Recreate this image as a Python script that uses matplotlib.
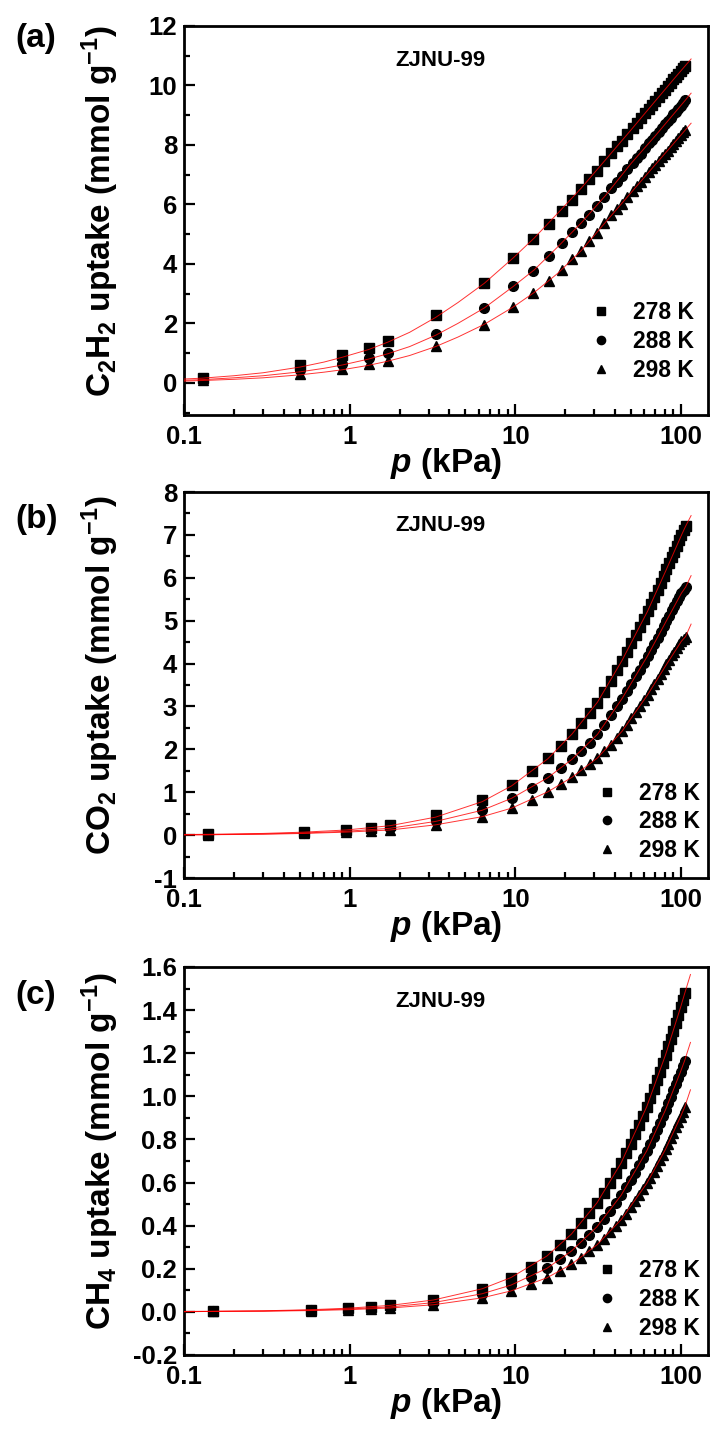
import matplotlib
matplotlib.use("Agg")
import matplotlib.pyplot as plt
from matplotlib.ticker import MultipleLocator, LogLocator, FixedLocator, FixedFormatter, NullFormatter

# ---- panel (a): C2H2 ----
p_a = [0.13, 0.5, 0.9, 1.3, 1.7, 3.3, 6.5, 9.7, 12.8, 16, 19, 22, 25, 28, 31, 34.5, 38, 41, 44,
       47.5, 51, 54, 57, 60.5, 64, 67, 70, 73.5, 77, 80, 83, 86.5, 90, 93, 96, 99.5, 103, 106]
a_278 = [0.15, 0.60, 0.95, 1.18, 1.42, 2.27, 3.37, 4.20, 4.85, 5.35, 5.78, 6.15, 6.52, 6.85, 7.14,
         7.45, 7.73, 7.95, 8.14, 8.37, 8.57, 8.73, 8.89, 9.06, 9.22, 9.35, 9.48, 9.62, 9.75, 9.86,
         9.97, 10.08, 10.20, 10.29, 10.38, 10.49, 10.59, 10.66]
a_288 = [0.12, 0.42, 0.62, 0.85, 1.01, 1.65, 2.52, 3.26, 3.76, 4.28, 4.70, 5.07, 5.38, 5.66, 5.95,
         6.26, 6.54, 6.76, 6.96, 7.19, 7.40, 7.56, 7.71, 7.89, 8.05, 8.18, 8.31, 8.45, 8.58, 8.69,
         8.80, 8.92, 9.03, 9.12, 9.22, 9.32, 9.42, 9.50]
a_298 = [0.10, 0.30, 0.46, 0.62, 0.75, 1.25, 1.96, 2.55, 3.02, 3.43, 3.80, 4.15, 4.45, 4.77, 5.05,
         5.36, 5.63, 5.84, 6.03, 6.25, 6.45, 6.61, 6.76, 6.93, 7.09, 7.21, 7.34, 7.47, 7.60, 7.71,
         7.81, 7.93, 8.04, 8.13, 8.22, 8.32, 8.42, 8.50]
pfit_a = [0.1, 0.13, 0.2, 0.3, 0.5, 0.7, 0.9, 1.3, 1.7, 2.3, 3.3, 4.5, 6.5, 9.7, 13, 18, 25, 35,
          50, 70, 90, 106, 115]
fit_a_278 = [0.13, 0.16, 0.24, 0.34, 0.53, 0.70, 0.86, 1.12, 1.37, 1.70, 2.20, 2.70, 3.35, 4.20,
             4.87, 5.70, 6.55, 7.50, 8.51, 9.48, 10.20, 10.66, 10.89]
fit_a_288 = [0.09, 0.11, 0.17, 0.24, 0.37, 0.49, 0.60, 0.80, 0.98, 1.22, 1.60, 2.00, 2.52, 3.24,
             3.80, 4.57, 5.38, 6.30, 7.38, 8.31, 9.03, 9.50, 9.74]
fit_a_298 = [0.06, 0.08, 0.12, 0.17, 0.27, 0.36, 0.44, 0.59, 0.73, 0.92, 1.22, 1.54, 1.97, 2.55,
             3.04, 3.68, 4.45, 5.40, 6.40, 7.34, 8.04, 8.50, 8.73]

# ---- panel (b): CO2 ----
p_b = [0.14, 0.53, 0.95, 1.35, 1.75, 3.3, 6.3, 9.5, 12.6, 15.7, 18.8, 22, 25, 28.2, 31.3, 34.5,
       37.6, 40.8, 44, 47, 50.2, 53.4, 56.5, 59.7, 62.8, 66, 69, 72.2, 75.4, 78.5, 81.7, 84.8, 88,
       91, 94.2, 97.4, 100.5, 103.7, 106.5]
b_278 = [0.02, 0.07, 0.12, 0.17, 0.23, 0.46, 0.81, 1.18, 1.50, 1.80, 2.09, 2.36, 2.61, 2.85, 3.08,
         3.33, 3.60, 3.85, 4.07, 4.27, 4.47, 4.67, 4.86, 5.04, 5.22, 5.39, 5.55, 5.72, 5.89, 6.05,
         6.20, 6.35, 6.48, 6.61, 6.74, 6.87, 6.99, 7.11, 7.20]
b_288 = [0.01, 0.05, 0.09, 0.12, 0.16, 0.33, 0.59, 0.86, 1.10, 1.34, 1.56, 1.77, 1.96, 2.14, 2.35,
         2.56, 2.80, 3.00, 3.18, 3.36, 3.53, 3.70, 3.86, 4.02, 4.18, 4.32, 4.46, 4.60, 4.74, 4.87,
         5.00, 5.12, 5.24, 5.35, 5.45, 5.55, 5.64, 5.72, 5.78]
b_298 = [0.01, 0.04, 0.07, 0.09, 0.12, 0.24, 0.43, 0.63, 0.82, 1.01, 1.19, 1.35, 1.51, 1.65, 1.80,
         1.96, 2.11, 2.26, 2.42, 2.56, 2.72, 2.88, 3.01, 3.14, 3.27, 3.40, 3.52, 3.64, 3.76, 3.87,
         3.98, 4.09, 4.19, 4.28, 4.37, 4.45, 4.52, 4.58, 4.63]
pfit_b = [0.1, 0.14, 0.3, 0.53, 0.95, 1.75, 3.3, 6.3, 9.5, 15.7, 22, 31.3, 44, 62.8, 81.7, 100.5,
          106.5, 115]
fit_b_278 = [0.015, 0.02, 0.04, 0.07, 0.12, 0.22, 0.42, 0.78, 1.15, 1.78, 2.36, 3.10, 4.07, 5.22,
             6.20, 6.99, 7.20, 7.45]
fit_b_288 = [0.01, 0.01, 0.03, 0.05, 0.09, 0.16, 0.32, 0.58, 0.86, 1.34, 1.77, 2.35, 3.18, 4.18,
             5.00, 5.64, 5.78, 6.05]
fit_b_298 = [0.005, 0.01, 0.02, 0.04, 0.07, 0.12, 0.24, 0.43, 0.63, 1.01, 1.35, 1.80, 2.42, 3.27,
             3.98, 4.52, 4.63, 4.92]

# ---- panel (c): CH4 ----
p_c = [0.15, 0.58, 0.97, 1.35, 1.75, 3.2, 6.3, 9.4, 12.5, 15.5, 18.7, 21.8, 24.9, 28, 31.1, 34.2,
       37.3, 40.4, 43.5, 46.6, 49.7, 52.8, 55.9, 59, 62.1, 65.2, 68.3, 71.4, 74.5, 77.6, 80.7,
       83.8, 86.9, 90, 93.1, 96.2, 99.3, 102.4, 105.2]
c_278 = [0.003, 0.010, 0.017, 0.023, 0.030, 0.055, 0.107, 0.159, 0.210, 0.259, 0.311, 0.361,
         0.410, 0.458, 0.506, 0.553, 0.600, 0.646, 0.691, 0.736, 0.781, 0.825, 0.868, 0.910,
         0.952, 0.994, 1.035, 1.075, 1.115, 1.154, 1.193, 1.231, 1.268, 1.305, 1.341, 1.377,
         1.412, 1.447, 1.477]
c_288 = [0.002, 0.008, 0.013, 0.018, 0.023, 0.043, 0.084, 0.124, 0.164, 0.202, 0.243, 0.282,
         0.320, 0.358, 0.395, 0.433, 0.469, 0.505, 0.541, 0.577, 0.612, 0.646, 0.680, 0.714,
         0.747, 0.780, 0.813, 0.845, 0.876, 0.907, 0.938, 0.968, 0.998, 1.028, 1.057, 1.086,
         1.114, 1.141, 1.166]
c_298 = [0.002, 0.006, 0.010, 0.014, 0.018, 0.033, 0.065, 0.097, 0.128, 0.158, 0.190, 0.221,
         0.251, 0.281, 0.311, 0.340, 0.370, 0.399, 0.428, 0.456, 0.485, 0.513, 0.541, 0.568,
         0.596, 0.623, 0.650, 0.676, 0.703, 0.729, 0.755, 0.780, 0.806, 0.831, 0.856, 0.880,
         0.905, 0.929, 0.950]
pfit_c = [0.1, 0.15, 0.3, 0.58, 0.97, 1.75, 3.2, 6.3, 9.4, 15.5, 21.8, 31.1, 43.5, 62.1, 80.7,
          99.3, 105.2, 114]
fit_c_278 = [0.002, 0.003, 0.005, 0.010, 0.017, 0.030, 0.055, 0.107, 0.159, 0.259, 0.361, 0.506,
             0.691, 0.952, 1.193, 1.412, 1.477, 1.565]
fit_c_288 = [0.001, 0.002, 0.004, 0.008, 0.013, 0.023, 0.043, 0.084, 0.124, 0.202, 0.282, 0.395,
             0.541, 0.747, 0.938, 1.114, 1.166, 1.250]
fit_c_298 = [0.001, 0.002, 0.003, 0.006, 0.010, 0.018, 0.033, 0.065, 0.097, 0.158, 0.221, 0.311,
             0.428, 0.596, 0.755, 0.905, 0.950, 1.030]

temps = ["278 K", "288 K", "298 K"]
markers = ["s", "o", "^"]
msizes = [6.5, 7.0, 7.5]

PANELS = [
    # tag, ylabel, p, series, fit p, fits, ylim, major, minor, fmt, rect
    ("(a)", r"C$_2$H$_2$ uptake (mmol g$^{-1}$)", p_a, [a_278, a_288, a_298],
     pfit_a, [fit_a_278, fit_a_288, fit_a_298], (-1.08, 12), 2, 1, "%d",
     [0.2592, 0.7106, 0.738, 0.2713]),
    ("(b)", r"CO$_2$ uptake (mmol g$^{-1}$)", p_b, [b_278, b_288, b_298],
     pfit_b, [fit_b_278, fit_b_288, fit_b_298], (-1, 8), 1, 0.5, "%d",
     [0.2592, 0.3877, 0.738, 0.2692]),
    ("(c)", r"CH$_4$ uptake (mmol g$^{-1}$)", p_c, [c_278, c_288, c_298],
     pfit_c, [fit_c_278, fit_c_288, fit_c_298], (-0.2, 1.6), 0.2, 0.1, "%.1f",
     [0.2592, 0.0551, 0.738, 0.2706]),
]
TAG_Y = [0.9735, 0.6374, 0.3061]
LEG_ANCHOR = [(0.974, 0.085), (0.984, 0.041), (0.984, 0.039)]

plt.rcParams.update({
    "font.family": "Liberation Sans",
    "font.weight": "bold",
    "mathtext.fontset": "custom",
    "mathtext.rm": "Liberation Sans:bold",
    "mathtext.bf": "Liberation Sans:bold",
    "mathtext.it": "Liberation Sans:italic:bold",
    "mathtext.default": "bf",
    "axes.unicode_minus": False,
    "axes.linewidth": 2.0,
})

fig = plt.figure(figsize=(7.1, 14.34), dpi=100)

for (tag, ylabel, p, series, pfit, fits, ylim, major, minor, fmt, rect), ty, anchor in zip(
        PANELS, TAG_Y, LEG_ANCHOR):
    ax = fig.add_axes(rect)
    for y, m, ms, lab in zip(series, markers, msizes, temps):
        ax.plot(p, y, linestyle="none", marker=m, markersize=ms, color="black", label=lab,
                zorder=2)
    for yf in fits:
        ax.plot(pfit, yf, color="red", linewidth=0.7, alpha=0.8, zorder=3)

    ax.set_xscale("log")
    ax.set_xlim(0.1, 145.5)
    ax.set_ylim(*ylim)
    ax.xaxis.set_major_locator(FixedLocator([0.1, 1, 10, 100]))
    ax.xaxis.set_major_formatter(FixedFormatter(["0.1", "1", "10", "100"]))
    ax.xaxis.set_minor_locator(LogLocator(base=10, subs=range(2, 10)))
    ax.xaxis.set_minor_formatter(NullFormatter())
    ax.yaxis.set_major_locator(MultipleLocator(major))
    ax.yaxis.set_minor_locator(MultipleLocator(minor))
    ax.yaxis.set_major_formatter(plt.FormatStrFormatter(fmt))
    ax.tick_params(which="both", direction="in", top=False, right=False, width=1.6,
                   labelsize=18.5)
    ax.tick_params(which="major", length=8)
    ax.tick_params(axis="y", which="major", pad=5)
    ax.tick_params(axis="x", which="major", pad=7)
    ax.tick_params(which="minor", length=4)
    for lbl in ax.get_xticklabels() + ax.get_yticklabels():
        lbl.set_fontweight("bold")

    ax.set_ylabel(ylabel, fontsize=24, fontweight="bold")
    ax.yaxis.set_label_coords(-0.12, 0.525)
    ax.set_xlabel(r"$\mathit{p}$ (kPa)", fontsize=24, fontweight="bold")
    ax.xaxis.set_label_coords(0.5, -0.08)

    ax.text(0.489, 0.912, "ZJNU-99", transform=ax.transAxes, ha="center", va="center",
            fontsize=16, fontweight="bold")
    ax.legend(loc="lower right", bbox_to_anchor=anchor, frameon=False, fontsize=16.5,
              handlelength=1.0, handletextpad=0.9, labelspacing=0.25, borderpad=0,
              borderaxespad=0, markerscale=0.85)

    fig.text(15 / 710, ty, tag, fontsize=24, fontweight="bold", ha="left", va="center")

fig.savefig("out.png", dpi=100)
